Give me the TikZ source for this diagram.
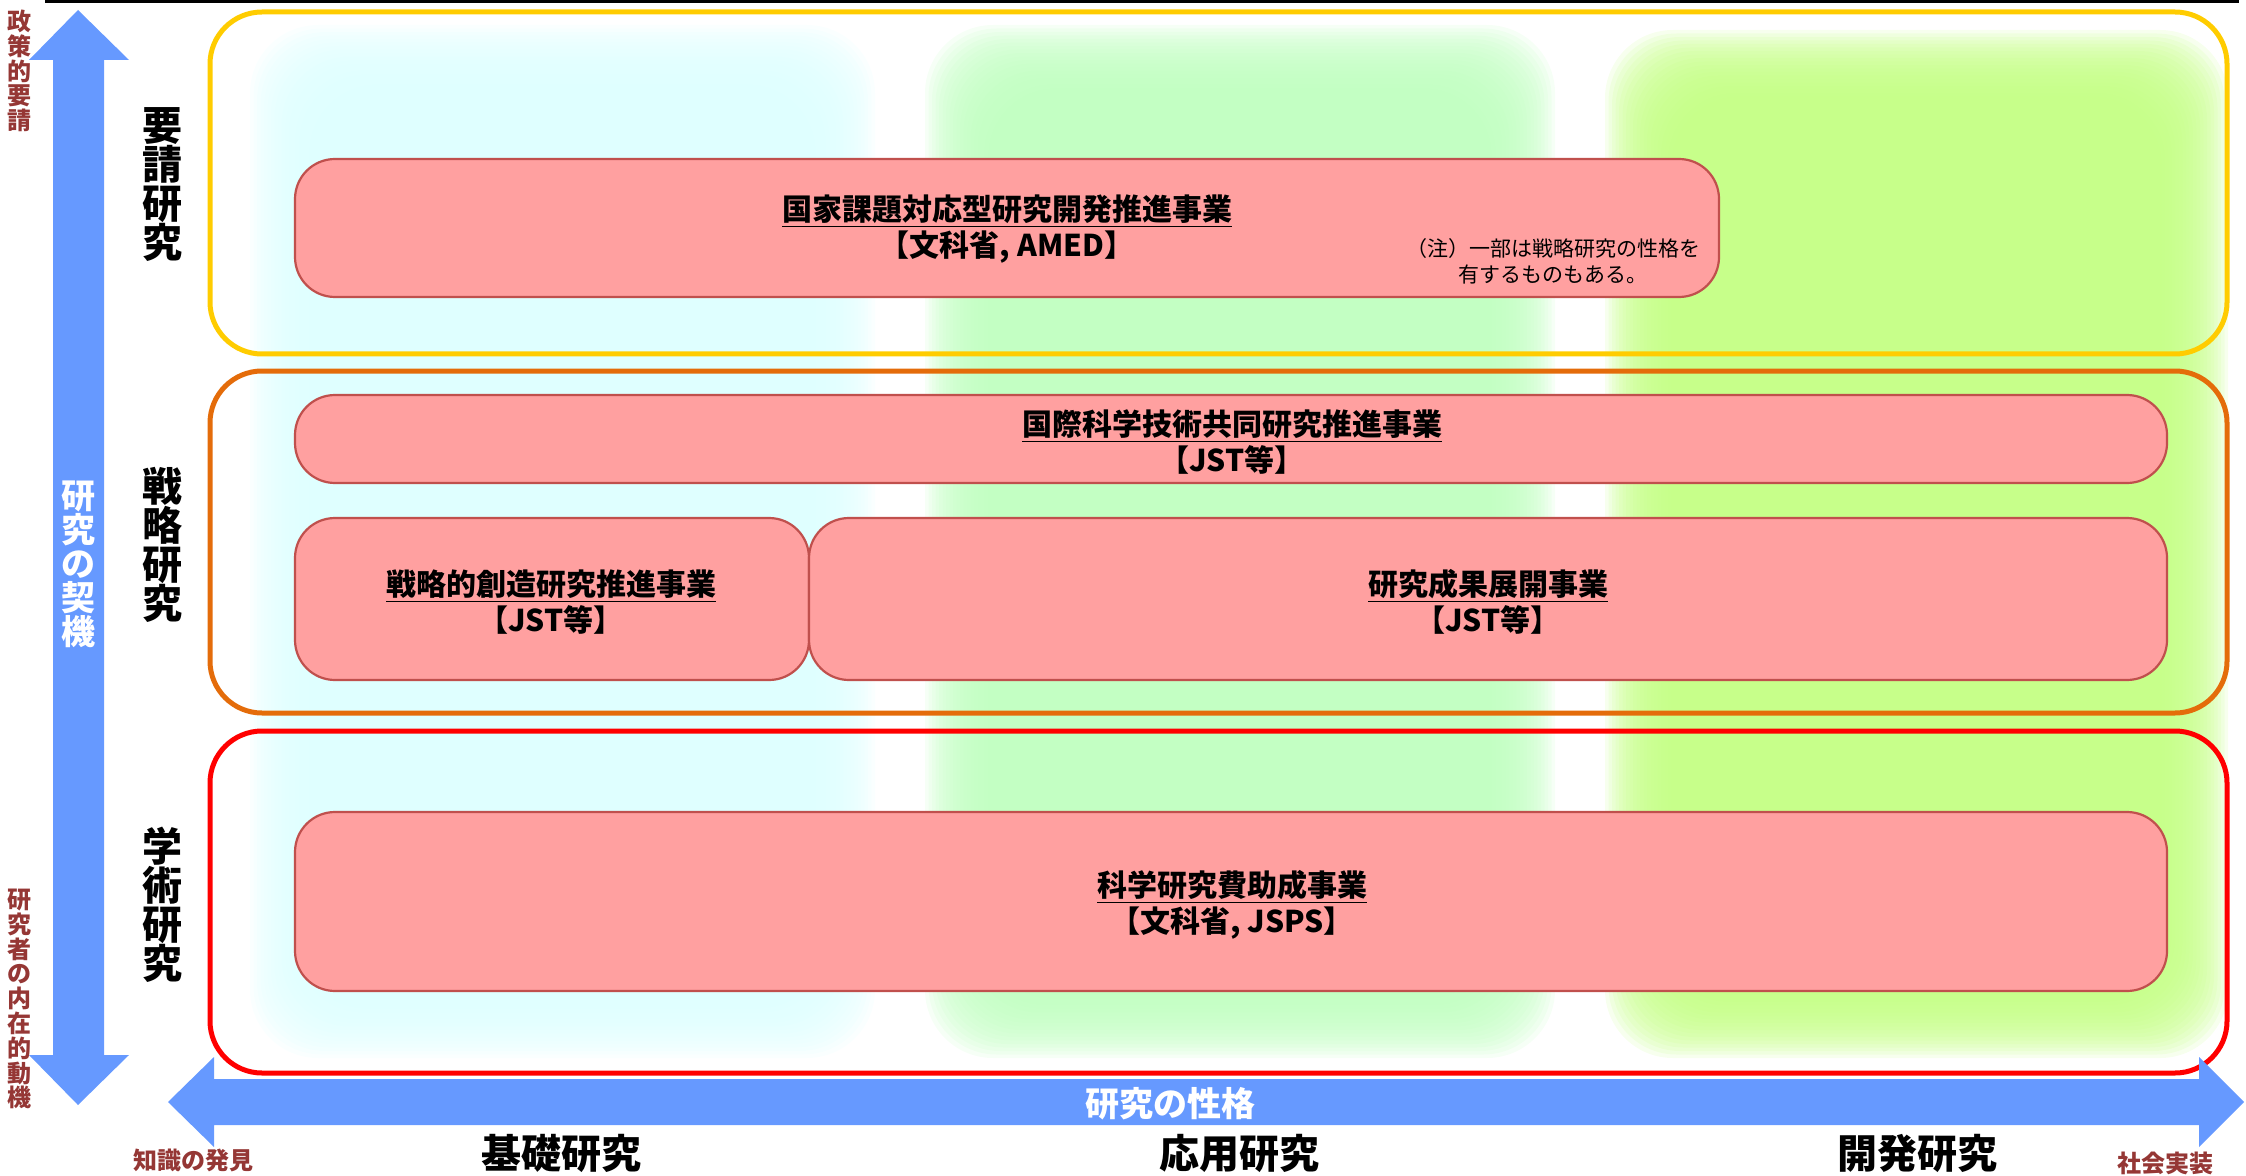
\documentclass[tikz,border=0pt]{standalone}
\usepackage{fontspec}
\newfontfamily\jp{Noto Sans CJK JP}
\definecolor{arrowblue}{HTML}{6699FF}
\definecolor{labelred}{HTML}{953735}
\definecolor{pinkfill}{HTML}{FFA0A0}
\definecolor{pinkline}{HTML}{C0504D}
\definecolor{boxyellow}{HTML}{FFCC00}
\definecolor{boxorange}{HTML}{E46C0A}
\definecolor{boxred}{HTML}{FF0000}
\definecolor{glowcyan}{HTML}{DDFFFF}
\definecolor{glowgreen}{HTML}{C0FFC0}
\definecolor{glowlime}{HTML}{C4FF84}
\tikzset{
  progbox/.style={draw=pinkline, fill=pinkfill, line width=1.1pt, rounded corners=20pt},
  areabox/.style={line width=2.5pt, rounded corners=26pt},
  rowlabel/.style={font={\jp\bfseries\fontsize{20}{19.5}\selectfont}, align=center, inner sep=0pt},
  axislabel/.style={font={\jp\bfseries\fontsize{20}{24}\selectfont}, inner sep=0pt},
  sidelabel/.style={font={\jp\bfseries\fontsize{12}{12.4}\selectfont}, text=labelred, align=center, inner sep=0pt},
  arrowtext/.style={font={\jp\bfseries\fontsize{17}{17}\selectfont}, text=white, align=center, inner sep=0pt},
  progtitle/.style={font={\jp\bfseries\fontsize{15}{18}\selectfont}, align=center, inner sep=0pt},
  notetext/.style={font={\jp\fontsize{10.5}{13}\selectfont}, align=center, inner sep=0pt}
}
\newcommand{\glowbox}[5]{%
  \foreach \i in {0,...,19} {
    \fill[#1, fill opacity=0.14, rounded corners=34pt]
      ({#2+3.5*\i},{#3+3.5*\i}) rectangle ({#4-3.5*\i},{#5-3.5*\i});
  }%
}
\begin{document}
\begin{tikzpicture}[x=0.5pt,y=-0.5pt]
\useasboundingbox (0,0) rectangle (2246,1176);
% top frame fragment
\draw[line width=1.5pt] (46.5,-20) -- (46.5,2) -- (2237,2) -- (2237,-20);
% background glows
\glowbox{glowcyan}{250}{25}{875}{1058}
\glowbox{glowgreen}{925}{25}{1555}{1058}
\glowbox{glowlime}{1605}{30}{2228}{1058}
% area boxes
\draw[areabox, boxyellow] (210,12) rectangle (2227,354);
\draw[areabox, boxorange] (210,371) rectangle (2227,713);
\draw[areabox, boxred] (210,731) rectangle (2227,1073);
% vertical arrow
\fill[arrowblue] (78,10) -- (129,60) -- (104,60) -- (104,1055) -- (129,1055) -- (78,1105)
  -- (29,1055) -- (53,1055) -- (53,60) -- (29,60) -- cycle;
% horizontal arrow
\fill[arrowblue] (168,1102) -- (214,1057) -- (214,1079) -- (2199,1079) -- (2199,1057) -- (2244,1102)
  -- (2199,1147) -- (2199,1125) -- (214,1125) -- (214,1147) -- cycle;
\node[arrowtext] (motive) at (78,564) {研\\究\\の\\契\\機};
\node[arrowtext] (nature) at (1170,1104) {研究の性格};
% side labels
\node[sidelabel] (policy) at (20,71) {政\\策\\的\\要\\請};
\node[sidelabel] (inner) at (20,999) {研\\究\\者\\の\\内\\在\\的\\動\\機};
\node[sidelabel] (discovery) at (193,1160) {知識の発見};
\node[sidelabel] (society) at (2165,1163) {社会実装};
% row labels
\node[rowlabel] (req) at (162,185) {要\\請\\研\\究};
\node[rowlabel] (strat) at (162,545) {戦\\略\\研\\究};
\node[rowlabel] (acad) at (162,905) {学\\術\\研\\究};
% bottom labels
\node[axislabel] (basic) at (561,1153) {基礎研究};
\node[axislabel] (applied) at (1239,1153) {応用研究};
\node[axislabel] (devel) at (1917,1153) {開発研究};
% program boxes
\draw[progbox] (295,159) rectangle (1719,297);
\node[progtitle] (p1) at (1007,229) {\underline{国家課題対応型研究開発推進事業}\\【文科省, AMED】};
\node[notetext] (note) at (1553,261) {（注）一部は戦略研究の性格を\\有するものもある。};
\draw[progbox] (295,395) rectangle (2167,483);
\node[progtitle] (p2) at (1232,442) {\underline{国際科学技術共同研究推進事業}\\【JST等】};
\draw[progbox] (295,518) rectangle (809,680);
\node[progtitle] (p3) at (551,602) {\underline{戦略的創造研究推進事業}\\【JST等】};
\draw[progbox] (809,518) rectangle (2167,680);
\node[progtitle] (p4) at (1488,602) {\underline{研究成果展開事業}\\【JST等】};
\draw[progbox] (295,812) rectangle (2167,991);
\node[progtitle] (p5) at (1232,905) {\underline{科学研究費助成事業}\\【文科省, JSPS】};
\end{tikzpicture}
\end{document}
